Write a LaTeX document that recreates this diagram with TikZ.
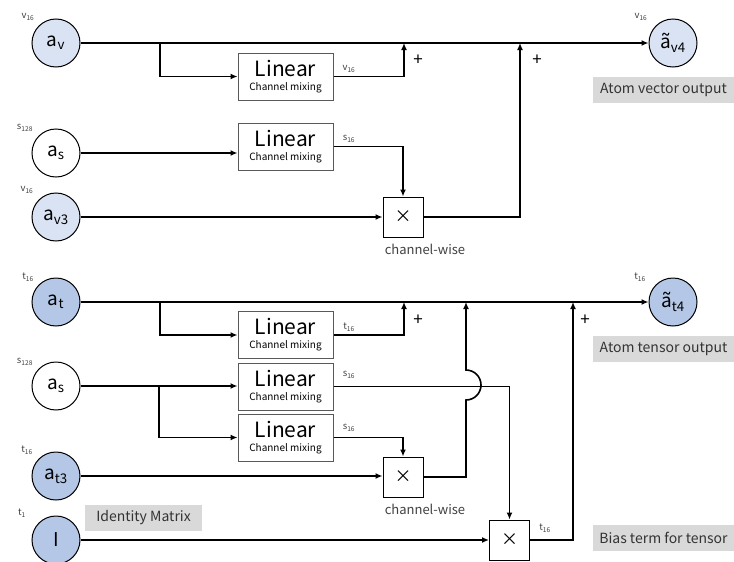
\documentclass[tikz,border=0pt]{standalone}
\usepackage{fontspec}
\setmainfont{Noto Sans CJK JP}
\usetikzlibrary{arrows.meta}
\definecolor{vecblue}{HTML}{DAE3F3}
\definecolor{tenblue}{HTML}{B4C7E7}
\tikzstyle{feat}=[circle,draw=black,line width=1pt,minimum size=48pt,inner sep=0pt,font=\fontsize{19}{19}\selectfont]
\tikzstyle{vfeat}=[feat,fill=vecblue]
\tikzstyle{tfeat}=[feat,fill=tenblue]
\tikzstyle{linbox}=[rectangle,draw=black!65,line width=1pt,minimum width=95pt,minimum height=47pt,inner sep=0pt,align=center]
\tikzstyle{mulbox}=[rectangle,draw=black,line width=1pt,minimum size=40pt,inner sep=0pt,font=\fontsize{17}{17}\selectfont]
\tikzstyle{dimlbl}=[text=black!75,font=\fontsize{9.5}{10}\selectfont,inner sep=0pt]
\tikzstyle{cwlbl}=[text=black!75,font=\fontsize{13}{13}\selectfont,inner sep=0pt]
\tikzstyle{plus}=[font=\fontsize{17}{17}\selectfont,inner sep=0pt]
\tikzstyle{note}=[fill=black!15,text=black!80,font=\fontsize{14}{14}\selectfont,minimum height=26pt,inner sep=0pt]
\tikzstyle{flow}=[-{Latex[length=7pt,width=6pt]},line width=1.6pt]
\newcommand{\linlbl}{{\fontsize{21}{21}\selectfont Linear}\\[2pt]{\fontsize{10}{10}\selectfont Channel mixing}}

\begin{document}
\begin{tikzpicture}[x=1pt,y=-1pt]
\useasboundingbox (0,0) rectangle (734,562);
% vector part
\node[vfeat] (av) at (56,43) {a\textsubscript{v}};
\node[dimlbl] (avd) at (28,17) {v\textsubscript{16}};
\node[vfeat] (av4) at (673,43) {\~a\textsubscript{v4}};
\node[dimlbl] (av4d) at (641,17) {v\textsubscript{16}};
\node[note,minimum width=141pt] (vout) at (663.5,90) {Atom vector output};
\node[linbox] (lin1) at (285.5,76.5) {\linlbl};
\node[dimlbl] (lin1d) at (349,69) {v\textsubscript{16}};
\node[feat] (as1) at (56,153) {a\textsubscript{s}};
\node[dimlbl] (as1d) at (25,128) {s\textsubscript{128}};
\node[linbox] (lin2) at (285.5,146.5) {\linlbl};
\node[dimlbl] (lin2d) at (349,139) {s\textsubscript{16}};
\node[vfeat] (av3) at (56,217) {a\textsubscript{v3}};
\node[dimlbl] (av3d) at (27,190) {v\textsubscript{16}};
\node[mulbox] (mul1) at (403,217) {×};
\node[cwlbl] (mul1l) at (425,249) {channel-wise};
\node[plus] (pl1) at (418,60) {+};
\node[plus] (pl2) at (537,60) {+};
\coordinate (j1) at (160,43);
\coordinate (p1) at (404,43);
\coordinate (p2) at (520,43);
\draw[flow] (av) -- (av4);
\draw[flow] (j1) |- (lin1.west);
\draw[flow] (lin1.east) -| (p1);
\draw[flow] (as1) -- (as1 -| lin2.west);
\draw[flow] (lin2.east) -| (mul1.north);
\draw[flow] (av3) -- (mul1.west);
\draw[flow] (mul1.east) -| (p2);
% tensor part
\node[tfeat] (at) at (56,302) {a\textsubscript{t}};
\node[dimlbl] (atd) at (28,277) {t\textsubscript{16}};
\node[tfeat] (at4) at (673,302) {\~a\textsubscript{t4}};
\node[dimlbl] (at4d) at (640,277) {t\textsubscript{16}};
\node[note,minimum width=141pt] (tout) at (663.5,349) {Atom tensor output};
\node[linbox] (lin3) at (285.5,335) {\linlbl};
\node[dimlbl] (lin3d) at (349,327) {t\textsubscript{16}};
\node[feat] (as2) at (56,386) {a\textsubscript{s}};
\node[dimlbl] (as2d) at (25,362) {s\textsubscript{128}};
\node[linbox] (lin4) at (285.5,386.5) {\linlbl};
\node[dimlbl] (lin4d) at (349,375) {s\textsubscript{16}};
\node[linbox] (lin5) at (285.5,437.5) {\linlbl};
\node[dimlbl] (lin5d) at (349,428) {s\textsubscript{16}};
\node[tfeat] (at3) at (56,476) {a\textsubscript{t3}};
\node[dimlbl] (at3d) at (27,450) {t\textsubscript{16}};
\node[mulbox] (mul2) at (403,477) {×};
\node[cwlbl] (mul2l) at (425,509) {channel-wise};
\node[tfeat] (idm) at (56,540) {I};
\node[dimlbl] (idmd) at (22,513) {t\textsubscript{1}};
\node[note,minimum width=117pt] (idml) at (143.5,518) {Identity Matrix};
\node[mulbox] (mul3) at (509.5,540) {×};
\node[dimlbl] (mul3d) at (545,528) {t\textsubscript{16}};
\node[note,minimum width=141pt] (bias) at (663.5,537.5) {Bias term for tensor};
\node[plus] (pl3) at (418,320) {+};
\node[plus] (pl4) at (585,320) {+};
\coordinate (j2) at (160,302);
\coordinate (j3) at (159,386);
\coordinate (p3) at (404,302);
\coordinate (p4) at (466,302);
\coordinate (p5) at (573,302);
\coordinate (hop) at (466,400);
\draw[flow] (at) -- (at4);
\draw[flow] (j2) |- (lin3.west);
\draw[flow] (lin3.east) -| (p3);
\draw[flow] (as2) -- (as2 -| lin4.west);
\draw[flow] (j3) |- (lin5.west);
\draw[flow] (lin4.east) -| (mul3.north);
\draw[flow] (lin5.east) -| (mul2.north);
\draw[flow] (at3) -- (at3 -| mul2.west);
\draw[flow] (mul2.east) -| (hop) arc[start angle=90,end angle=-90,radius=15] -- (p4);
\draw[flow] (idm) -- (mul3.west);
\draw[flow] (mul3.east) -| (p5);
\end{tikzpicture}
\end{document}
